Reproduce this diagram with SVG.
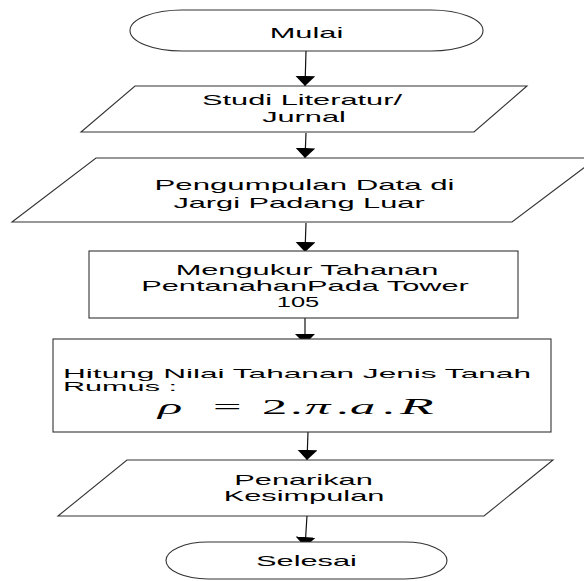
<svg xmlns="http://www.w3.org/2000/svg" width="584" height="581" viewBox="0 0 584 581">
<style>
.shape{fill:#fff;stroke:#333;stroke-width:1.1}
.t{font-family:"Liberation Sans",Arial,sans-serif;font-size:15px;fill:#000;text-anchor:middle}
.l{font-family:"Liberation Sans",Arial,sans-serif;font-size:12.5px;fill:#000}
.f{font-family:"Liberation Serif","Times New Roman",serif;font-size:22px;fill:#000}
.i{font-style:italic}
.conn{stroke:#111;stroke-width:1.2;fill:none;marker-end:url(#arr)}
</style>
<defs>
<marker id="arr" viewBox="0 0 10 20" refX="10" refY="10" markerWidth="10" markerHeight="20" orient="auto" markerUnits="userSpaceOnUse">
<path d="M0,0 L10,10 L0,20 z" fill="#000"/>
</marker>
</defs>
<rect width="584" height="581" fill="#fff"/>
<g id="connectors">
<line class="conn" x1="306" y1="51" x2="305" y2="86"/>
<line class="conn" x1="306" y1="133" x2="305" y2="158"/>
<line class="conn" x1="306" y1="223" x2="305" y2="252"/>
<line class="conn" x1="305" y1="318" x2="305" y2="344"/>
<line class="conn" x1="308" y1="432" x2="307" y2="460"/>
<line class="conn" x1="307" y1="516" x2="305" y2="547"/>
</g>
<g id="mulai">
<rect class="shape" x="130" y="10" width="353" height="41" rx="52" ry="20.5"/>
<text class="t" transform="translate(306.5,38) scale(2.05,1)">Mulai</text>
</g>
<g id="studi">
<polygon class="shape" points="135,86 527,86 474,132 81,132"/>
<text class="t" transform="translate(302,105) scale(2.05,1)">Studi Literatur/</text>
<text class="t" transform="translate(304,122) scale(2.05,1)">Jurnal</text>
</g>
<g id="pengumpulan">
<polygon class="shape" points="96,158 597,158 512,222 12,222"/>
<text class="t" transform="translate(304.5,190) scale(2.08,1)">Pengumpulan Data di</text>
<text class="t" transform="translate(299,208) scale(2.05,1)">Jargi Padang Luar</text>
</g>
<g id="mengukur">
<rect class="shape" x="89" y="251" width="429" height="67"/>
<text class="t" transform="translate(307,275) scale(2.05,1)">Mengukur Tahanan</text>
<text class="t" transform="translate(305,291) scale(2.05,1)">PentanahanPada Tower</text>
<text class="t" transform="translate(298,307) scale(1.7,1)">105</text>
</g>
<g id="hitung">
<rect class="shape" x="53" y="339" width="498" height="93"/>
<text class="l" transform="translate(63,377.5) scale(2.53,1)">Hitung Nilai Tahanan Jenis Tanah</text>
<text class="l" transform="translate(63,390.5) scale(2.45,1)">Rumus :</text>
<text class="f" transform="scale(2.3,1)" y="414"><tspan class="i" x="68.7">ρ</tspan><tspan x="92.6">=</tspan><tspan x="113.9">2</tspan><tspan x="126.1">.</tspan><tspan class="i" x="132.6">π</tspan><tspan x="146.1">.</tspan><tspan class="i" x="152.2">a</tspan><tspan x="166.1">.</tspan><tspan class="i" x="173.9" font-size="24">R</tspan></text>
</g>
<g id="penarikan">
<polygon class="shape" points="127,460 553,460 484,516 58,516"/>
<text class="t" transform="translate(303.5,485) scale(2.05,1)">Penarikan</text>
<text class="t" transform="translate(304,501) scale(2.05,1)">Kesimpulan</text>
</g>
<g id="selesai">
<rect class="shape" x="166" y="542" width="281" height="37" rx="42" ry="18.5"/>
<text class="t" transform="translate(306.5,566) scale(2.05,1)">Selesai</text>
</g>
</svg>
